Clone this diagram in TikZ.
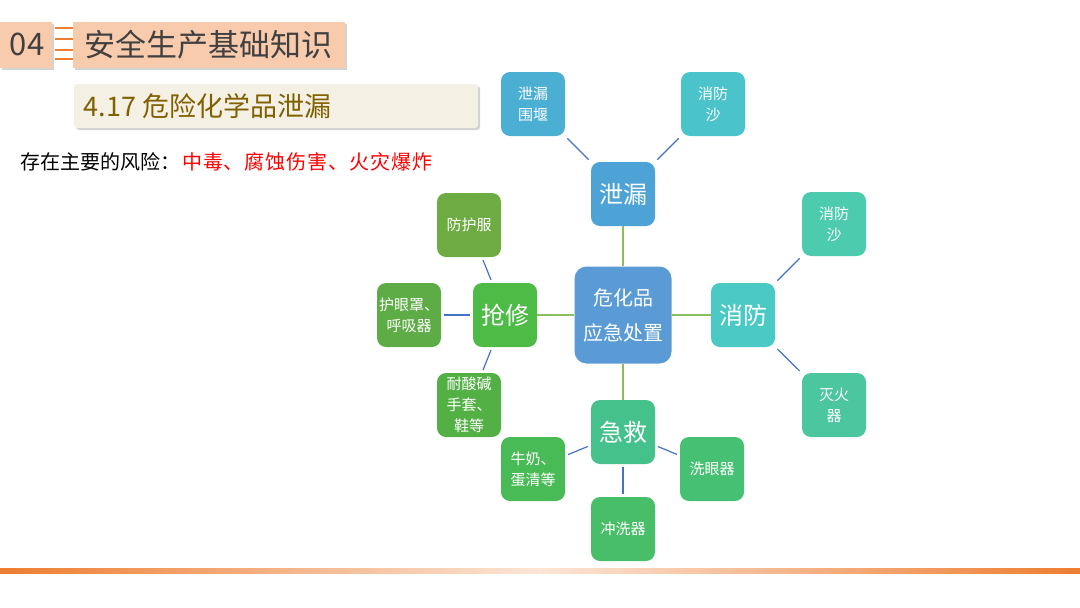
\documentclass[tikz,border=0pt]{standalone}
\usepackage{fontspec}
\setmainfont{Noto Sans CJK SC}
\usetikzlibrary{shadows}

\definecolor{peach}{HTML}{F8CBAD}
\definecolor{darkgray}{HTML}{404040}
\definecolor{cream}{HTML}{F4F1E4}
\definecolor{olive}{HTML}{806000}
\definecolor{barorange}{HTML}{ED7D31}
\definecolor{barlight}{HTML}{FBE5D6}
\definecolor{trunk}{HTML}{8CBF5B}
\definecolor{twig}{HTML}{4472C4}
% box fills
\definecolor{cRoot}{RGB}{91,155,213}
\definecolor{cLeak}{RGB}{77,163,213}
\definecolor{cFire}{RGB}{75,201,196}
\definecolor{cAid}{RGB}{69,194,139}
\definecolor{cFix}{RGB}{78,187,71}
\definecolor{cDike}{RGB}{75,174,211}
\definecolor{cSandA}{RGB}{75,195,203}
\definecolor{cSandB}{RGB}{77,203,174}
\definecolor{cExt}{RGB}{75,198,158}
\definecolor{cEyes}{RGB}{70,193,115}
\definecolor{cRinse}{RGB}{71,190,103}
\definecolor{cMilk}{RGB}{72,187,86}
\definecolor{cSuit}{RGB}{109,172,66}
\definecolor{cMask}{RGB}{93,172,69}
\definecolor{cGlove}{RGB}{83,176,69}

\begin{document}
\begin{tikzpicture}[x=1pt,y=-1pt,
  headbox/.style={fill=peach,draw=none,drop shadow={shadow xshift=2pt,shadow yshift=-2pt,opacity=0.35}},
  rootbox/.style={fill=#1,rounded corners=12pt,minimum width=97pt,minimum height=97pt,
    inner sep=0pt,align=center,text=white,font=\fontsize{20}{35}\selectfont},
  branchbox/.style={fill=#1,rounded corners=9pt,minimum width=64pt,minimum height=64pt,
    inner sep=0pt,align=center,text=white,font=\fontsize{24}{28}\selectfont},
  leafbox/.style={fill=#1,rounded corners=9pt,minimum width=64pt,minimum height=64pt,
    inner sep=0pt,align=center,text=white,font=\fontsize{15}{21}\selectfont},
  trunkline/.style={draw=trunk,line width=1.3pt},
  twigline/.style={draw=twig,line width=1.2pt,shorten <=3pt,shorten >=3pt}]
  \useasboundingbox (0,0) rectangle (1080,608);

  % heading
  \fill[headbox] (0,22) rectangle (52,68);
  \node[text=darkgray,font=\fontsize{31}{34}\selectfont] (num) at (27,44) {04};
  \foreach \y in {28,39,50,59}
    \draw[barorange,line width=1.3pt] (55,\y) -- (73,\y);
  \fill[headbox] (73,22) rectangle (345,68);
  \node[anchor=west,text=darkgray,font=\fontsize{31}{34}\selectfont] (title) at (81,45) {安全生产基础知识};
  \fill[cream,rounded corners=3pt,drop shadow={shadow xshift=2pt,shadow yshift=-2pt,opacity=0.35}]
    (74,84) rectangle (478,128);
  \node[anchor=west,text=olive,font=\fontsize{27}{30}\selectfont] (sub) at (80,106) {4.17 危险化学品泄漏};
  \node[anchor=west,font=\fontsize{20}{22}\selectfont,inner sep=0pt] (risk) at (20,162)
    {存在主要的风险：};
  \node[anchor=west,text=red,font=\fontsize{20}{22}\addfontfeature{LetterSpace=4.5}\selectfont,inner sep=0pt]
    (riskred) at (182,162) {中毒、腐蚀伤害、火灾爆炸};

  % mind map
  \node[rootbox=cRoot] (root) at (623,315) {危化品\\应急处置};

  \node[branchbox=cLeak] (leak) at (623,194) {泄漏};
  \node[branchbox=cFire] (fire) at (743,315) {消防};
  \node[branchbox=cAid] (aid) at (623,432) {急救};
  \node[branchbox=cFix] (fix) at (505,315) {抢修};

  \node[leafbox=cDike] (dike) at (533,104) {泄漏\\围堰};
  \node[leafbox=cSandA] (sandA) at (713,104) {消防\\沙};
  \node[leafbox=cSandB] (sandB) at (834,224) {消防\\沙};
  \node[leafbox=cExt] (ext) at (834,405) {灭火\\器};
  \node[leafbox=cEyes] (eyes) at (712,469) {洗眼器};
  \node[leafbox=cRinse] (rinse) at (623,529) {冲洗器};
  \node[leafbox=cMilk] (milk) at (533,469) {牛奶、\\蛋清等};
  \node[leafbox=cSuit] (suit) at (469,225) {防护服};
  \node[leafbox=cMask] (mask) at (409,315) {护眼罩、\\呼吸器};
  \node[leafbox=cGlove] (glove) at (469,405) {耐酸碱\\手套、\\鞋等};

  \foreach \b in {leak,fire,aid,fix}
    \draw[trunkline] (root) -- (\b);
  \draw[twigline] (leak) -- (dike);
  \draw[twigline] (leak) -- (sandA);
  \draw[twigline] (fire) -- (sandB);
  \draw[twigline] (fire) -- (ext);
  \draw[twigline] (aid) -- (eyes);
  \draw[twigline] (aid) -- (rinse);
  \draw[twigline] (aid) -- (milk);
  \draw[twigline] (fix) -- (suit);
  \draw[twigline] (fix) -- (mask);
  \draw[twigline] (fix) -- (glove);

  % bottom bar
  \shade[left color=barorange,right color=barorange,middle color=barlight] (0,568) rectangle (1080,573);
\end{tikzpicture}
\end{document}
